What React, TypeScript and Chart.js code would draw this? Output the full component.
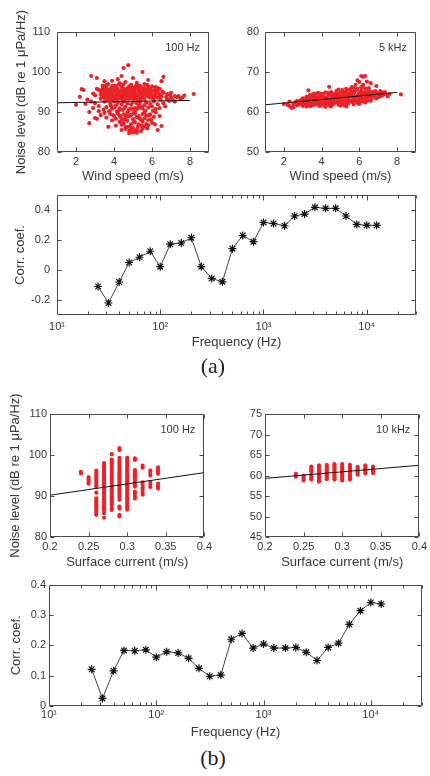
import React, { useEffect, useRef } from 'react';
import { Chart, registerables } from 'chart.js';

Chart.register(...registerables);

const FONT = '"Liberation Sans", Arial, Helvetica, sans-serif';
const SERIF = '"Liberation Serif", "Times New Roman", serif';
const TEXT = '#383838';
const AXIS = '#4a4a4a';
const RED = 'rgb(236, 34, 40)';

// ---------- (a) Wind speed vs noise level, 100 Hz ----------
const windVsNoise100Hz: [number, number][] = [
  [2.0, 91.8], [2.2, 93.8], [2.3, 95.7], [2.4, 95.5], [2.5, 92.0], [2.6, 93.1], [2.7, 87.2], [2.7, 90.0], [2.8, 99.0], [2.8, 92.6],
  [2.9, 91.0], [2.9, 94.6], [3.0, 88.5], [3.0, 94.2], [3.0, 92.2], [3.1, 98.5], [3.1, 88.3], [3.1, 95.8], [3.2, 95.5], [3.2, 90.2], [3.2, 91.5],
  [3.3, 94.5], [3.3, 95.3], [3.3, 93.3], [3.4, 93.8], [3.4, 95.9], [3.4, 94.9], [3.5, 94.2], [3.5, 95.5], [3.5, 93.5], [3.6, 95.0],
  [3.6, 94.0], [3.6, 96.0], [3.7, 93.6], [3.7, 94.7], [3.7, 95.6], [3.8, 94.3], [3.8, 95.2], [3.8, 93.2], [3.9, 95.8], [3.9, 94.6],
  [3.9, 93.9], [4.0, 94.1], [4.0, 95.4], [4.0, 93.4], [4.1, 95.0], [4.1, 93.7], [4.1, 96.0], [4.2, 94.4], [4.2, 95.7], [4.2, 93.1],
  [4.3, 93.9], [4.3, 95.1], [4.3, 94.7], [4.4, 95.5], [4.4, 94.2], [4.4, 96.3], [4.5, 93.6], [4.5, 94.9], [4.5, 95.8], [4.6, 94.5],
  [4.6, 93.3], [4.6, 95.4], [4.7, 95.9], [4.7, 94.0], [4.7, 94.8], [4.8, 93.8], [4.8, 95.3], [4.8, 96.4], [4.9, 94.6], [4.9, 95.6],
  [4.9, 93.4], [5.0, 95.0], [5.0, 94.1], [5.0, 96.1], [5.1, 93.7], [5.1, 94.8], [5.1, 95.5], [5.2, 94.3], [5.2, 96.0], [5.2, 93.2],
  [5.3, 95.2], [5.3, 94.0], [5.3, 95.8], [5.4, 93.5], [5.4, 94.7], [5.4, 96.2], [5.5, 95.4], [5.5, 94.3], [5.5, 93.8], [5.6, 94.9],
  [5.6, 96.0], [5.6, 93.3], [5.7, 95.6], [5.7, 94.2], [5.7, 94.8], [5.8, 93.9], [5.8, 95.1], [5.8, 96.3], [5.9, 94.6], [5.9, 95.7],
  [5.9, 93.6], [6.0, 95.2], [6.0, 94.0], [6.1, 93.8], [6.1, 95.5], [6.2, 94.7], [6.2, 96.2], [6.3, 95.0], [6.3, 93.6], [6.4, 94.3],
  [6.4, 95.8], [6.5, 93.9], [6.6, 94.8], [6.8, 94.5], [6.8, 93.2], [7.0, 94.8], [7.0, 93.6], [7.1, 93.0], [7.2, 94.0], [7.4, 94.0],
  [7.5, 93.3], [7.7, 94.1], [8.2, 94.5], [6.6, 92.2], [6.9, 92.8], [7.2, 92.6], [6.7, 91.4], [6.4, 91.0],
  [3.6, 96.8], [3.7, 97.0], [3.9, 96.5], [4.3, 97.2], [4.5, 96.9], [4.6, 97.5], [4.9, 96.8], [5.2, 97.3], [5.4, 96.5], [5.6, 97.0],
  [6.0, 96.4], [6.3, 96.0], [4.1, 96.2], [3.4, 96.6],
  [4.4, 99.0], [4.5, 101.0], [4.75, 101.7], [5.5, 100.0], [6.6, 98.8], [6.5, 97.7], [4.2, 98.2], [5.0, 98.5], [3.5, 97.7], [5.8, 98.0], [3.9, 97.8],
  [3.5, 92.6], [3.6, 91.2], [3.8, 92.0], [3.9, 90.8], [4.0, 92.7], [4.1, 91.6], [4.2, 92.3], [4.3, 90.9], [4.4, 91.9], [4.5, 92.6],
  [4.6, 91.3], [4.7, 92.1], [4.8, 90.7], [4.9, 91.8], [5.0, 92.5], [5.1, 91.0], [5.2, 92.2], [5.3, 91.5], [5.4, 92.8], [5.5, 90.9],
  [5.6, 91.7], [5.7, 92.4], [5.8, 91.1], [5.9, 92.0], [6.0, 91.4], [6.1, 92.7], [6.2, 90.8], [6.3, 91.9],
  [3.3, 89.2], [3.5, 89.8], [3.6, 88.6], [3.8, 89.5], [3.9, 87.9], [4.0, 89.0], [4.1, 88.3], [4.2, 89.7], [4.3, 87.5], [4.3, 89.1],
  [4.4, 88.0], [4.4, 86.8], [4.5, 89.4], [4.5, 87.2], [4.6, 88.6], [4.6, 86.3], [4.7, 89.8], [4.7, 87.8], [4.8, 88.9], [4.8, 85.3],
  [4.8, 84.7], [4.9, 87.0], [4.9, 89.3], [5.0, 88.2], [5.0, 86.0], [5.1, 89.6], [5.1, 87.4], [5.2, 88.7], [5.2, 85.6], [5.3, 89.0],
  [5.3, 86.9], [5.4, 88.1], [5.4, 85.2], [5.5, 89.5], [5.5, 87.6], [5.6, 88.4], [5.6, 86.4], [5.7, 89.1], [5.7, 87.0], [5.8, 88.0],
  [5.9, 89.4], [6.0, 87.3], [6.1, 88.8], [6.2, 89.9], [6.3, 85.5], [6.5, 86.5], [5.0, 84.9], [4.6, 85.8], [5.2, 84.8], [3.7, 86.3], [4.1, 86.6],
  [3.45, 95.1], [3.75, 94.1], [4.05, 96.6], [4.35, 93.4], [4.65, 95.1], [4.95, 94.3], [5.25, 96.6], [5.55, 95.0], [5.85, 94.5], [6.15, 94.2],
  [4.25, 90.4], [4.75, 90.2], [5.15, 90.5], [5.45, 91.2], [5.65, 90.3], [4.55, 88.1], [5.05, 87.7], [5.35, 88.4], [4.85, 86.4], [5.75, 85.9],
  [3.35, 94.0], [3.55, 96.3], [3.65, 93.0], [3.85, 95.9], [3.95, 93.1], [4.15, 94.6], [4.25, 96.9], [4.45, 93.2], [4.55, 94.2], [4.75, 93.3],
  [4.85, 94.7], [5.05, 93.3], [5.15, 96.5], [5.35, 93.6], [5.45, 95.8], [5.65, 94.5], [5.75, 96.8], [5.95, 94.9], [6.05, 93.3], [6.25, 95.4],
  [6.35, 94.6], [6.45, 93.1], [6.55, 95.1], [6.75, 93.8], [6.95, 94.2], [7.3, 93.7], [7.6, 93.6],
  [4.15, 90.1], [4.35, 88.6], [4.45, 90.5], [4.65, 89.1], [4.7, 86.2], [4.9, 85.6], [5.05, 89.9], [5.25, 86.3], [5.25, 90.9], [5.45, 86.6],
  [5.5, 85.8], [5.6, 89.9], [5.8, 86.7], [5.85, 89.2], [5.95, 88.1], [6.05, 90.3], [4.4, 85.5], [5.1, 85.2], [3.45, 90.6], [3.75, 90.2],
  [3.95, 89.2], [6.15, 86.9], [6.4, 89.0], [4.95, 90.8], [5.35, 92.2], [4.05, 91.2], [4.55, 91.0], [3.85, 91.5],
];
const fitWind100Hz: [number, number][] = [[1, 92.3], [8, 92.9]];

// ---------- (a) Wind speed vs noise level, 5 kHz ----------
const windVsNoise5kHz: [number, number][] = [
  [2.0, 62.0], [2.2, 61.8], [2.3, 61.5], [2.3, 62.6], [2.4, 61.0], [2.5, 62.0], [2.5, 61.2], [2.7, 62.8], [2.7, 61.7], [2.9, 62.2], [2.9, 63.0],
  [3.0, 61.5], [3.0, 62.5], [3.0, 63.4], [3.1, 62.9], [3.1, 61.9], [3.2, 63.8], [3.2, 62.3], [3.2, 61.4], [3.3, 62.7], [3.3, 63.5],
  [3.3, 61.8], [3.3, 65.4], [3.4, 64.3], [3.4, 62.4], [3.4, 63.1], [3.5, 61.6], [3.5, 62.9], [3.5, 63.9], [3.6, 62.2], [3.6, 63.4],
  [3.6, 64.6], [3.7, 61.9], [3.7, 62.8], [3.7, 64.0], [3.8, 63.3], [3.8, 62.0], [3.8, 64.8], [3.9, 62.6], [3.9, 63.7], [3.9, 61.5],
  [4.0, 63.1], [4.0, 64.2], [4.0, 62.2], [4.1, 61.7], [4.1, 62.9], [4.1, 64.5], [4.2, 63.5], [4.2, 62.4], [4.2, 64.9], [4.3, 62.0],
  [4.3, 63.8], [4.3, 63.0], [4.4, 64.4], [4.4, 62.6], [4.4, 61.6], [4.4, 66.3], [4.5, 63.2], [4.5, 62.1], [4.5, 65.0], [4.6, 63.9],
  [4.6, 62.8], [4.6, 61.9], [4.7, 62.3], [4.7, 64.6], [4.7, 63.4], [4.8, 63.7], [4.8, 62.5], [4.8, 65.3], [4.9, 61.8], [4.9, 63.1],
  [4.9, 64.2], [5.0, 62.6], [5.0, 64.8], [5.0, 63.5], [5.1, 63.9], [5.1, 62.2], [5.1, 65.5], [5.2, 62.9], [5.2, 64.3], [5.2, 61.7],
  [5.3, 63.6], [5.3, 62.4], [5.3, 65.1], [5.4, 64.6], [5.4, 62.0], [5.4, 63.3], [5.5, 62.8], [5.5, 65.6], [5.5, 63.9], [5.6, 64.1],
  [5.6, 62.5], [5.6, 65.0], [5.6, 66.2], [5.7, 63.4], [5.7, 61.9], [5.7, 64.7], [5.8, 65.4], [5.8, 62.7], [5.8, 63.8], [5.8, 66.8],
  [5.9, 64.0], [5.9, 62.3], [5.9, 65.8], [5.9, 67.9], [6.0, 63.2], [6.0, 64.9], [6.0, 62.0], [6.0, 67.5], [6.1, 65.3], [6.1, 63.7],
  [6.1, 62.6], [6.1, 69.0], [6.2, 64.4], [6.2, 62.9], [6.2, 68.8], [6.2, 66.8], [6.3, 63.5], [6.3, 65.0], [6.3, 62.4], [6.3, 69.0],
  [6.4, 64.7], [6.4, 63.1], [6.4, 67.6], [6.5, 63.8], [6.5, 65.4], [6.5, 66.0], [6.6, 64.2], [6.6, 62.8], [6.6, 67.2], [6.7, 65.0],
  [6.7, 63.6], [6.8, 64.0], [6.9, 63.4], [6.9, 64.8], [6.9, 66.5], [7.0, 64.4], [7.1, 65.2], [7.2, 64.1], [7.2, 64.9], [7.4, 64.5],
  [7.5, 63.9], [7.6, 64.5], [8.2, 64.4],
  [3.65, 63.0], [3.95, 64.1], [4.25, 63.2], [4.55, 63.6], [4.85, 62.9], [5.15, 63.3], [5.45, 64.0], [5.75, 63.1], [6.05, 64.3], [6.35, 63.9],
  [3.05, 62.0], [3.15, 63.2], [3.25, 62.6], [3.35, 63.9], [3.45, 62.1], [3.55, 63.5], [3.65, 61.9], [3.75, 63.8], [3.85, 62.4], [3.95, 64.6],
  [4.05, 62.8], [4.15, 63.6], [4.25, 61.9], [4.35, 64.7], [4.45, 62.9], [4.55, 64.2], [4.65, 62.4], [4.75, 63.9], [4.85, 64.5], [4.95, 62.3],
  [5.05, 63.8], [5.15, 64.9], [5.25, 62.6], [5.35, 64.1], [5.45, 62.9], [5.55, 64.6], [5.65, 63.0], [5.75, 65.3], [5.85, 62.9], [5.95, 64.4],
  [6.05, 62.7], [6.15, 64.5], [6.25, 63.2], [6.35, 64.3], [6.45, 62.9], [6.55, 64.8], [6.65, 63.7], [6.75, 64.4], [6.85, 65.2], [7.05, 63.8],
  [7.15, 64.6], [7.3, 64.4], [7.35, 65.0], [2.6, 62.4], [2.8, 61.9], [2.95, 62.7], [4.5, 61.4], [5.0, 61.6], [5.3, 61.4], [4.2, 61.3],
  [3.4, 61.5], [5.3, 65.8], [5.7, 66.0], [6.1, 66.2], [6.3, 65.9], [4.9, 65.6],
];
const fitWind5kHz: [number, number][] = [[1, 61.8], [8, 64.9]];

// ---------- (b) Surface current vs noise level ----------
const currentBins = [0.24, 0.25, 0.26, 0.27, 0.28, 0.29, 0.3, 0.31, 0.32, 0.33, 0.34];
const noise100HzByCurrent: number[][] = [
  [95.5, 95.9],
  [93.0, 93.5, 94.0, 94.6],
  [96.2, 95.7, 95.2, 94.7, 94.2, 93.7, 93.2, 92.7, 92.3, 90.8, 89.4, 88.9, 88.4, 87.9, 87.4, 86.9, 86.4, 85.9, 85.4],
  [98.0, 97.5, 97.0, 96.5, 96.0, 95.5, 95.0, 94.5, 94.0, 93.5, 93.0, 92.5, 92.0, 91.5, 91.0, 90.5, 90.0, 89.5, 89.0, 88.5, 88.0, 87.5, 87.0, 86.5, 85.8, 84.7],
  [100.2, 98.9, 98.4, 97.9, 97.4, 96.9, 96.4, 95.9, 95.4, 94.9, 94.4, 93.9, 93.4, 92.9, 92.4, 91.9, 91.4, 90.9, 90.4, 89.9, 89.4, 88.9, 88.4, 87.9, 87.1, 86.6],
  [101.7, 101.2, 99.3, 98.8, 98.3, 97.8, 97.3, 96.8, 96.3, 95.8, 95.3, 94.8, 94.3, 93.8, 93.3, 92.8, 92.3, 91.8, 91.3, 90.8, 90.3, 89.8, 89.1, 87.4, 86.9, 85.4, 85.0],
  [99.3, 98.8, 98.3, 97.8, 97.3, 96.8, 96.3, 95.8, 95.3, 94.8, 94.3, 93.8, 93.3, 92.8, 92.3, 91.8, 91.3, 90.8, 90.3, 89.8, 89.3, 88.8, 88.3, 87.7, 87.2, 86.7],
  [99.2, 98.8, 96.3, 95.8, 95.3, 94.8, 94.3, 93.8, 93.3, 92.8, 92.3, 91.1, 90.6, 90.0, 89.4],
  [97.4, 96.9, 93.3, 92.7, 92.1, 91.5, 90.9, 90.3],
  [96.2, 95.6, 95.0, 93.4, 92.8, 92.2],
  [97.0, 96.5, 96.0, 95.4, 93.0, 92.4, 91.8],
];
const fitCurrent100Hz: [number, number][] = [[0.2, 90.2], [0.4, 95.7]];

const noise10kHzByCurrent: number[][] = [
  [59.7, 60.1, 60.4],
  [58.8, 59.2, 59.6, 60.0],
  [59.0, 59.4, 59.8, 60.2, 61.0, 61.4, 61.8, 62.2],
  [58.5, 58.9, 59.3, 59.7, 60.1, 60.5, 60.9, 61.3, 61.7, 62.1, 62.5],
  [59.1, 59.5, 59.9, 60.3, 60.7, 61.1, 61.5, 61.9, 62.3, 62.6],
  [59.0, 59.4, 59.8, 60.2, 60.6, 61.0, 61.4, 61.8, 62.2, 62.6, 62.8],
  [58.8, 59.2, 59.6, 60.0, 60.4, 60.8, 61.2, 61.6, 62.0, 62.4, 62.8],
  [59.0, 59.4, 59.8, 60.2, 60.6, 61.0, 61.4, 61.8, 62.2, 62.6],
  [60.2, 60.6, 61.0, 61.4, 61.8, 62.1],
  [60.5, 60.9, 61.3, 61.7, 62.1, 62.5],
  [60.6, 61.0, 61.4, 61.8, 62.2],
];
const fitCurrent10kHz: [number, number][] = [[0.2, 59.3], [0.4, 62.5]];

// ---------- Correlation coefficient vs frequency ----------
const bandFrequencies = [25, 31.5, 40, 50, 63, 80, 100, 125, 160, 200, 250, 315, 400, 500, 630, 800, 1000, 1250, 1600, 2000, 2500, 3150, 4000, 5000, 6300, 8000, 10000, 12500];
const corrWind = [-0.11, -0.22, -0.08, 0.05, 0.085, 0.125, 0.022, 0.172, 0.18, 0.215, 0.022, -0.056, -0.079, 0.142, 0.23, 0.189, 0.317, 0.31, 0.295, 0.36, 0.373, 0.418, 0.411, 0.411, 0.36, 0.304, 0.298, 0.298];
const corrCurrent = [0.121, 0.025, 0.116, 0.183, 0.182, 0.185, 0.161, 0.179, 0.175, 0.157, 0.124, 0.098, 0.102, 0.22, 0.239, 0.191, 0.204, 0.191, 0.191, 0.193, 0.177, 0.15, 0.193, 0.207, 0.269, 0.314, 0.341, 0.336];

// ---------- Axis ticks ----------
const windTicks = [2, 4, 6, 8];
const noise100Ticks = [80, 90, 100, 110];
const noise5kTicks = [50, 60, 70, 80];
const currentTicks = [0.2, 0.25, 0.3, 0.35, 0.4];
const noise10kTicks = [45, 50, 55, 60, 65, 70, 75];
const corrWindTicks = [-0.2, 0, 0.2, 0.4];
const corrCurrentTicks = [0, 0.1, 0.2, 0.3, 0.4];
const freqDecades = [1, 2, 3, 4];
const freqMax = 30000;
const SUP: Record<number, string> = { 1: '\u00B9', 2: '\u00B2', 3: '\u00B3', 4: '\u2074' };

const freqTicks: number[] = [];
freqDecades.forEach((e) => {
  for (let m = 1; m <= 9; m++) {
    const v = m * Math.pow(10, e);
    if (v <= freqMax + 1e-9) freqTicks.push(v);
  }
});

const isPow10 = (v: number) => {
  const e = Math.log10(v);
  return Math.abs(e - Math.round(e)) < 1e-9;
};

const boxTicks = {
  id: 'boxTicks',
  afterDraw(chart: any) {
    const { ctx, chartArea } = chart;
    const xs = chart.scales.x;
    const ys = chart.scales.y;
    const L = Math.round(chartArea.left) + 0.5;
    const R = Math.round(chartArea.right) - 0.5;
    const T = Math.round(chartArea.top) + 0.5;
    const B = Math.round(chartArea.bottom) - 0.5;
    ctx.save();
    ctx.strokeStyle = AXIS;
    ctx.lineWidth = 1;
    ctx.beginPath();
    ctx.rect(L, T, R - L, B - T);
    const isLog = xs.type === 'logarithmic';
    xs.ticks.forEach((t: any) => {
      const px = Math.round(xs.getPixelForValue(t.value)) + 0.5;
      const len = isLog ? (isPow10(t.value) ? 5 : 3) : 4;
      ctx.moveTo(px, B);
      ctx.lineTo(px, B - len);
      ctx.moveTo(px, T);
      ctx.lineTo(px, T + len);
    });
    ys.ticks.forEach((t: any) => {
      const py = Math.round(ys.getPixelForValue(t.value)) + 0.5;
      ctx.moveTo(L, py);
      ctx.lineTo(L + 4, py);
      ctx.moveTo(R, py);
      ctx.lineTo(R - 4, py);
    });
    ctx.stroke();
    ctx.restore();
  },
};

const cornerLabel = {
  id: 'cornerLabel',
  afterDatasetsDraw(chart: any, _args: any, opts: any) {
    if (!opts || !opts.text) return;
    const { ctx, chartArea } = chart;
    ctx.save();
    ctx.font = `11px ${FONT}`;
    ctx.fillStyle = TEXT;
    ctx.textAlign = 'right';
    ctx.textBaseline = 'middle';
    ctx.fillText(opts.text, chartArea.right - opts.dx, chartArea.top + opts.dy);
    ctx.restore();
  },
};

type PanelSpec = {
  box: { x: number; y: number; w: number; h: number };
  datasets: any[];
  xType: 'linear' | 'logarithmic';
  xMin: number;
  xMax: number;
  xTicks: number[];
  xTitle: string;
  yMin: number;
  yMax: number;
  yTicks: number[];
  yTitle?: string;
  yWidth: number;
  xHeight: number;
  padTop: number;
  padRight: number;
  yTickPad: number;
  xTickPad: number;
  yTitlePad: number;
  xTitlePad: number;
  corner?: string;
};

function buildConfig(p: PanelSpec): any {
  const tickFont = { family: FONT, size: 11 };
  const titleFont = { family: FONT, size: 13 };
  return {
    type: 'scatter',
    data: { datasets: p.datasets },
    plugins: [boxTicks, cornerLabel],
    options: {
      responsive: false,
      maintainAspectRatio: false,
      animation: false,
      events: [],
      layout: { padding: { top: p.padTop, right: p.padRight, left: 0, bottom: 0 }, autoPadding: false },
      plugins: {
        legend: { display: false },
        tooltip: { enabled: false },
        cornerLabel: { text: p.corner, dx: 9, dy: 16 },
      },
      scales: {
        x: {
          type: p.xType,
          position: 'bottom',
          min: p.xMin,
          max: p.xMax,
          grid: { display: false, drawTicks: false },
          border: { display: false },
          ticks: {
            autoSkip: false,
            maxRotation: 0,
            minRotation: 0,
            padding: p.xTickPad,
            color: TEXT,
            font: tickFont,
            callback: (v: any) => {
              const n = Number(v);
              if (p.xType === 'logarithmic') return isPow10(n) ? '10' + SUP[Math.round(Math.log10(n))] : '';
              return String(n);
            },
          },
          afterBuildTicks: (s: any) => {
            s.ticks = p.xTicks.map((v) => ({ value: v }));
          },
          afterFit: (s: any) => {
            s.height = p.xHeight;
          },
          title: { display: true, text: p.xTitle, color: TEXT, font: titleFont, padding: { top: 0, bottom: p.xTitlePad } },
        },
        y: {
          type: 'linear',
          position: 'left',
          min: p.yMin,
          max: p.yMax,
          grid: { display: false, drawTicks: false },
          border: { display: false },
          ticks: {
            autoSkip: false,
            padding: p.yTickPad,
            color: TEXT,
            font: tickFont,
            callback: (v: any) => String(Number(v)),
          },
          afterBuildTicks: (s: any) => {
            s.ticks = p.yTicks.map((v) => ({ value: v }));
          },
          afterFit: (s: any) => {
            s.width = p.yWidth;
          },
          title: {
            display: !!p.yTitle,
            text: p.yTitle || '',
            color: TEXT,
            font: titleFont,
            padding: { top: p.yTitlePad, bottom: 0 },
          },
        },
      },
    },
  };
}

function Panel({ spec }: { spec: PanelSpec }) {
  const ref = useRef<HTMLCanvasElement>(null);
  useEffect(() => {
    if (!ref.current) return;
    const chart = new Chart(ref.current, buildConfig(spec));
    return () => chart.destroy();
  }, []);
  const { x, y, w, h } = spec.box;
  return (
    <canvas
      ref={ref}
      width={w}
      height={h}
      style={{ position: 'absolute', left: x, top: y, width: w, height: h }}
    />
  );
}

const pts = (arr: [number, number][]) => arr.map(([x, y]) => ({ x, y }));
const binPts = (bins: number[], cols: number[][]) =>
  bins.flatMap((b, i) => cols[i].map((v) => ({ x: b, y: v })));

const fitLine = (arr: [number, number][]) => ({
  data: pts(arr),
  showLine: true,
  borderColor: '#111111',
  borderWidth: 1,
  pointRadius: 0,
});
const redDots = (data: any[]) => ({
  data,
  showLine: false,
  pointRadius: 2.1,
  pointBackgroundColor: RED,
  pointBorderColor: RED,
  pointBorderWidth: 0,
});
const corrSeries = (vals: number[]) => ({
  data: bandFrequencies.map((f, i) => ({ x: f, y: vals[i] })),
  showLine: true,
  borderColor: '#444444',
  borderWidth: 1,
  pointStyle: 'star',
  pointRadius: 4,
  pointBorderColor: '#111111',
  pointBorderWidth: 1.2,
  pointBackgroundColor: 'rgba(0,0,0,0)',
});

const NOISE_TITLE = 'Noise level (dB re 1 \u03BCPa/Hz)';

const panels: PanelSpec[] = [
  {
    box: { x: 0, y: 0, w: 215, h: 188 },
    datasets: [fitLine(fitWind100Hz), redDots(pts(windVsNoise100Hz))],
    xType: 'linear', xMin: 1, xMax: 9, xTicks: windTicks, xTitle: 'Wind speed (m/s)',
    yMin: 80, yMax: 110, yTicks: noise100Ticks, yTitle: NOISE_TITLE,
    yWidth: 57, xHeight: 36, padTop: 32, padRight: 6, yTickPad: 7, xTickPad: 3, yTitlePad: 14, xTitlePad: 4,
    corner: '100 Hz',
  },
  {
    box: { x: 215, y: 0, w: 215, h: 188 },
    datasets: [fitLine(fitWind5kHz), redDots(pts(windVsNoise5kHz))],
    xType: 'linear', xMin: 1, xMax: 9, xTicks: windTicks, xTitle: 'Wind speed (m/s)',
    yMin: 50, yMax: 80, yTicks: noise5kTicks,
    yWidth: 50, xHeight: 36, padTop: 32, padRight: 14, yTickPad: 6, xTickPad: 3, yTitlePad: 0, xTitlePad: 4,
    corner: '5 kHz',
  },
  {
    box: { x: 0, y: 180, w: 430, h: 175 },
    datasets: [corrSeries(corrWind)],
    xType: 'logarithmic', xMin: 10, xMax: freqMax, xTicks: freqTicks, xTitle: 'Frequency (Hz)',
    yMin: -0.3, yMax: 0.5, yTicks: corrWindTicks, yTitle: 'Corr. coef.',
    yWidth: 57, xHeight: 40, padTop: 15, padRight: 14, yTickPad: 7, xTickPad: 5, yTitlePad: 13, xTitlePad: 5,
  },
  {
    box: { x: 0, y: 390, w: 215, h: 185 },
    datasets: [fitLine(fitCurrent100Hz), redDots(binPts(currentBins, noise100HzByCurrent))],
    xType: 'linear', xMin: 0.2, xMax: 0.4, xTicks: currentTicks, xTitle: 'Surface current (m/s)',
    yMin: 80, yMax: 110, yTicks: noise100Ticks, yTitle: NOISE_TITLE,
    yWidth: 50, xHeight: 38, padTop: 24, padRight: 8, yTickPad: 3, xTickPad: 3, yTitlePad: 8, xTitlePad: 5,
    corner: '100 Hz',
  },
  {
    box: { x: 215, y: 390, w: 215, h: 185 },
    datasets: [fitLine(fitCurrent10kHz), redDots(binPts(currentBins, noise10kHzByCurrent))],
    xType: 'linear', xMin: 0.2, xMax: 0.4, xTicks: currentTicks, xTitle: 'Surface current (m/s)',
    yMin: 45, yMax: 75, yTicks: noise10kTicks,
    yWidth: 50, xHeight: 38, padTop: 24, padRight: 8, yTickPad: 3, xTickPad: 3, yTitlePad: 0, xTitlePad: 5,
    corner: '10 kHz',
  },
  {
    box: { x: 0, y: 575, w: 430, h: 170 },
    datasets: [corrSeries(corrCurrent)],
    xType: 'logarithmic', xMin: 10, xMax: freqMax, xTicks: freqTicks, xTitle: 'Frequency (Hz)',
    yMin: 0, yMax: 0.4, yTicks: corrCurrentTicks, yTitle: 'Corr. coef.',
    yWidth: 49, xHeight: 39, padTop: 7, padRight: 8, yTickPad: 3, xTickPad: 2, yTitlePad: 9, xTitlePad: 5,
  },
];

const captionStyle = (top: number): React.CSSProperties => ({
  position: 'absolute',
  left: 0,
  top,
  width: 426,
  textAlign: 'center',
  fontFamily: SERIF,
  fontSize: 22,
  lineHeight: '24px',
  color: '#222222',
});

export default function App() {
  return (
    <div style={{ position: 'absolute', left: 0, top: 0, width: 430, height: 776, background: '#ffffff', overflow: 'hidden' }}>
      {panels.map((p, i) => (
        <Panel key={i} spec={p} />
      ))}
      <div style={captionStyle(354)}>(a)</div>
      <div style={captionStyle(746)}>(b)</div>
    </div>
  );
}
